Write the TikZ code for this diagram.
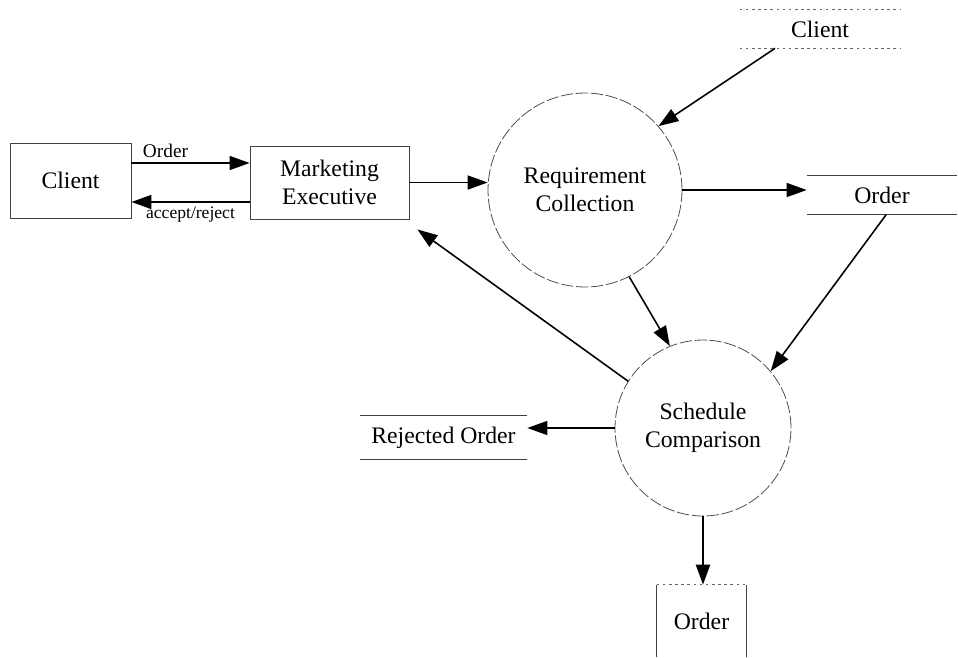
\documentclass[tikz,border=0pt]{standalone}
\usepackage{fontspec}
\setmainfont{Liberation Serif}
\usetikzlibrary{arrows.meta,calc}
\begin{document}
\begin{tikzpicture}[x=0.02cm,y=-0.02cm,
  lbl/.style={font=\fontsize{13.5}{16}\selectfont, align=center},
  boxnode/.style={draw=black!75, line width=0.5pt, lbl, inner sep=0pt},
  storenode/.style={lbl, inner sep=0pt},
  procnode/.style={circle, draw=black!70, line width=0.45pt, dash pattern=on 7pt off 1.5pt, lbl, inner sep=0pt},
  arr/.style={line width=0.9pt, -{Triangle[length=0.4cm,width=0.28cm]}},
  storeline/.style={black!75, line width=0.5pt},
  faintline/.style={black!60, line width=0.4pt, dash pattern=on 1.5pt off 2pt}
]
\useasboundingbox (0,0) rectangle (958,657);

% nodes
\node[boxnode, minimum width=2.42cm, minimum height=1.5cm] (client1) at (70.5,180.5) {Client};
\node[boxnode, minimum width=3.18cm, minimum height=1.46cm] (mkt) at (329.5,182.5) {Marketing\\Executive};
\node[procnode, minimum size=3.88cm] (req) at (585,190) {Requirement\\Collection};
\node[procnode, minimum size=3.52cm] (sched) at (703,428) {Schedule\\Comparison};
\node[storenode, minimum width=3.2cm, minimum height=0.76cm] (client2) at (820,29) {Client};
\node[storenode, minimum width=3cm, minimum height=0.78cm] (order1) at (882,195) {Order};
\node[storenode, minimum width=3.34cm, minimum height=0.86cm] (rej) at (443.5,437.5) {Rejected Order};
\node[storenode, minimum width=1.78cm, minimum height=1.44cm] (order2) at (701.5,621) {Order};

% store outlines
\draw[faintline] (client2.north west) -- (client2.north east);
\draw[faintline] (client2.south west) -- (client2.south east);
\draw[storeline] (order1.north west) -- (order1.north east);
\draw[storeline] (order1.south west) -- (order1.south east);
\draw[storeline] (rej.north west) -- (rej.north east);
\draw[storeline, line width=0.8pt] (rej.south west) -- (rej.south east);
\draw[storeline] (order2.south west) -- (order2.north west);
\draw[storeline] (order2.south east) -- (order2.north east);
\draw[faintline] (order2.north west) -- (order2.north east);

% connectors
\draw[arr] ([yshift=0.35cm]client1.east) -- ([yshift=0.35cm]client1.east -| mkt.west)
  node[midway, above=-1pt, font=\fontsize{11}{12}\selectfont, xshift=-0.5cm] {Order};
\draw[arr] ([yshift=-0.39cm]mkt.west) -- ([yshift=-0.39cm]mkt.west -| client1.east)
  node[midway, below=-1pt, font=\fontsize{10}{11}\selectfont] {accept/reject};
\draw[arr] (mkt.east) -- (mkt.east -| req.west);
\draw[arr] ([xshift=-0.9cm]client2.south) -- (req.41);
\draw[arr] (req.east) -- (req.east -| order1.west);
\draw[arr] ([xshift=0.08cm]order1.south) -- (sched.40);
\draw[arr] (req.-63) -- (sched.112);
\draw[arr] (sched.148) -- ([shift={(0.16cm,-0.2cm)}]mkt.south east);
\draw[arr] (sched.west) -- (sched.west -| rej.east);
\draw[arr, line width=1.3pt] (sched.south) -- (sched.south |- order2.north);
\end{tikzpicture}
\end{document}
